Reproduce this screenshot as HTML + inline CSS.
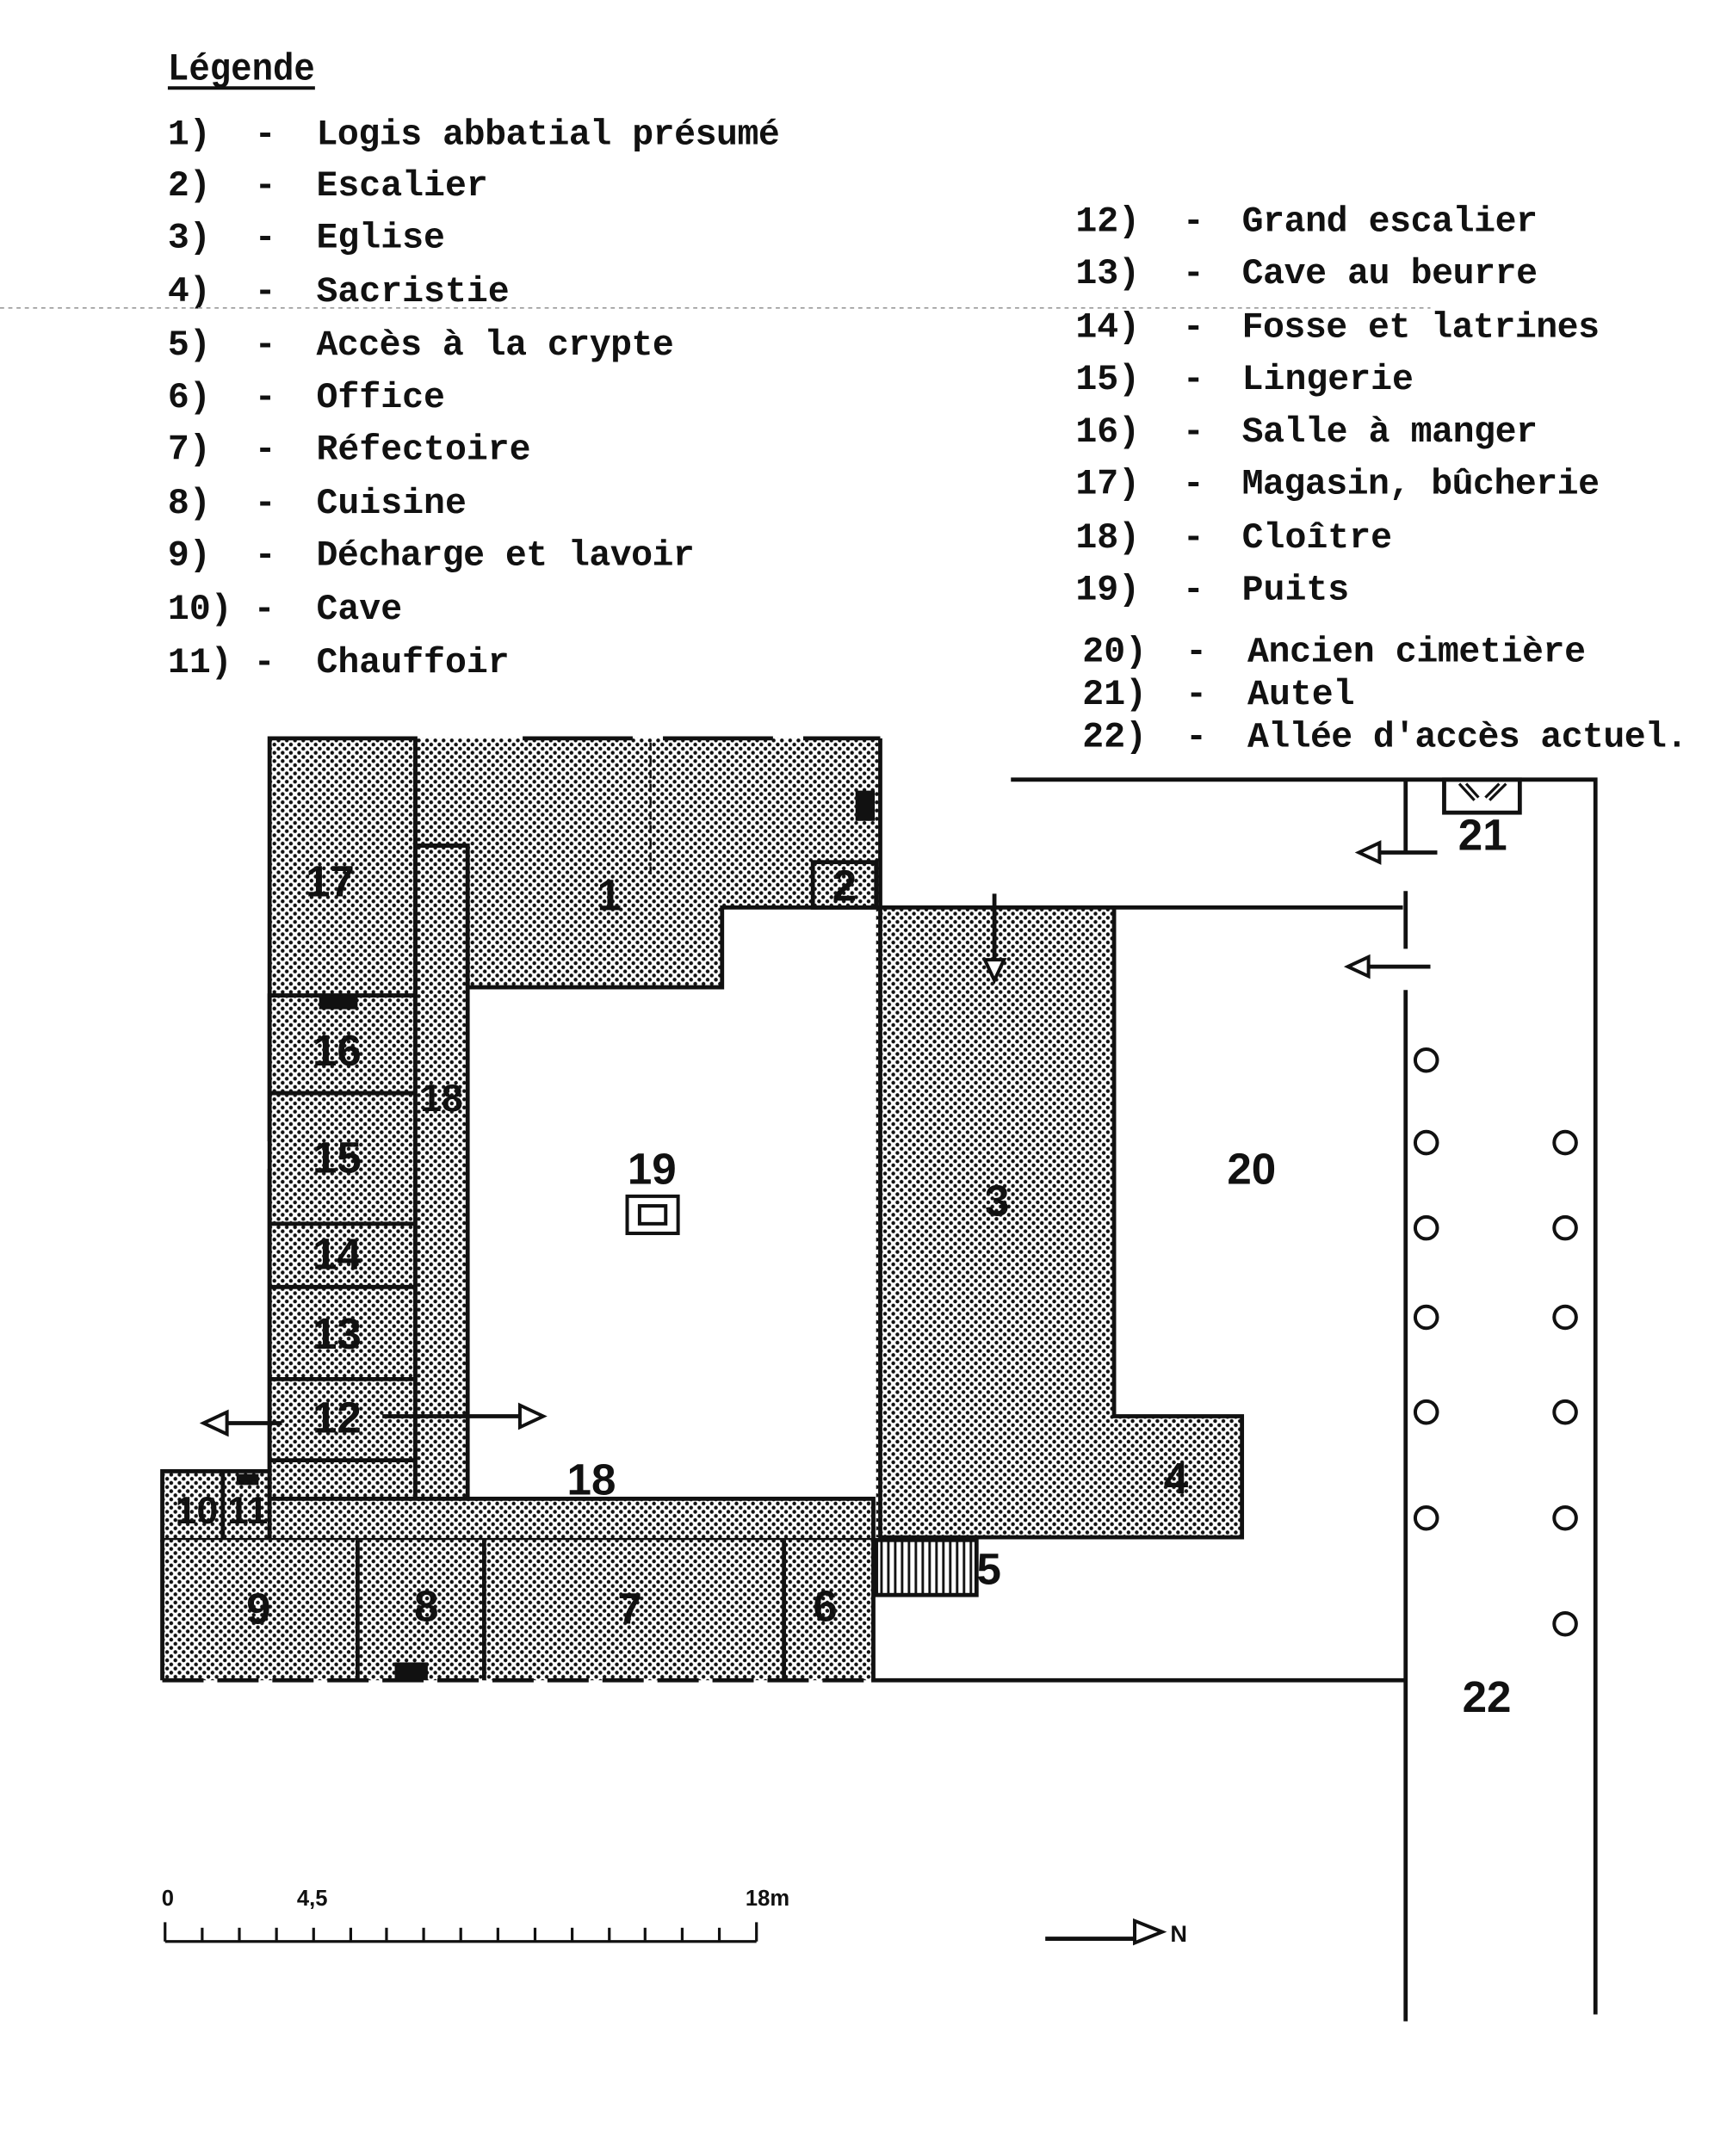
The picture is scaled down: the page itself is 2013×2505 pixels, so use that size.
<!DOCTYPE html>
<html><head><meta charset="utf-8"><style>
html,body{margin:0;padding:0;background:#fff;}
svg{display:block;}
.t{font-family:"Liberation Mono",monospace;font-weight:bold;font-size:26px;fill:#111;}
.n{font-family:"Liberation Sans",sans-serif;font-weight:bold;font-size:32px;fill:#111;text-anchor:middle;}
</style></head><body>
<svg width="2013" height="2505" viewBox="0 0 1260 1568" xmlns="http://www.w3.org/2000/svg">
<defs>
<pattern id="d" width="6" height="6" patternUnits="userSpaceOnUse">
<rect width="6" height="6" fill="#fff"/>
<circle cx="1.5" cy="1.5" r="1.4" fill="#111"/><circle cx="4.5" cy="4.5" r="1.4" fill="#111"/>
</pattern>
<pattern id="h" width="5" height="10" patternUnits="userSpaceOnUse"><rect width="5" height="10" fill="#fff"/><rect x="0" width="1.8" height="10" fill="#111"/></pattern>
</defs>
<rect width="1260" height="1568" fill="#fff"/>
<g class="t">
<text x="122" y="58" font-size="28" textLength="107" lengthAdjust="spacingAndGlyphs">Légende</text>
<line x1="122" y1="64" x2="229" y2="64" stroke="#111" stroke-width="2.5"/>
<text x="122" y="105">1)</text><text x="185" y="105">-</text><text x="230" y="105" textLength="337">Logis abbatial présumé</text>
<text x="122" y="142">2)</text><text x="185" y="142">-</text><text x="230" y="142">Escalier</text>
<text x="122" y="180">3)</text><text x="185" y="180">-</text><text x="230" y="180">Eglise</text>
<text x="122" y="219">4)</text><text x="185" y="219">-</text><text x="230" y="219">Sacristie</text>
<text x="122" y="258">5)</text><text x="185" y="258">-</text><text x="230" y="258" textLength="260">Accès à la crypte</text>
<text x="122" y="296">6)</text><text x="185" y="296">-</text><text x="230" y="296">Office</text>
<text x="122" y="334">7)</text><text x="185" y="334">-</text><text x="230" y="334">Réfectoire</text>
<text x="122" y="373">8)</text><text x="185" y="373">-</text><text x="230" y="373">Cuisine</text>
<text x="122" y="411">9)</text><text x="185" y="411">-</text><text x="230" y="411" textLength="275">Décharge et lavoir</text>
<text x="122" y="450">10) -</text><text x="230" y="450">Cave</text>
<text x="122" y="489">11) -</text><text x="230" y="489">Chauffoir</text>
<text x="782" y="168">12)</text><text x="860" y="168">-</text><text x="903" y="168" textLength="215">Grand escalier</text>
<text x="782" y="206">13)</text><text x="860" y="206">-</text><text x="903" y="206" textLength="215">Cave au beurre</text>
<text x="782" y="245">14)</text><text x="860" y="245">-</text><text x="903" y="245" textLength="260">Fosse et latrines</text>
<text x="782" y="283">15)</text><text x="860" y="283">-</text><text x="903" y="283">Lingerie</text>
<text x="782" y="321">16)</text><text x="860" y="321">-</text><text x="903" y="321" textLength="215">Salle à manger</text>
<text x="782" y="359">17)</text><text x="860" y="359">-</text><text x="903" y="359" textLength="260">Magasin, bûcherie</text>
<text x="782" y="398">18)</text><text x="860" y="398">-</text><text x="903" y="398">Cloître</text>
<text x="782" y="436">19)</text><text x="860" y="436">-</text><text x="903" y="436">Puits</text>
<text x="787" y="481">20)</text><text x="862" y="481">-</text><text x="907" y="481" textLength="246">Ancien cimetière</text>
<text x="787" y="512">21)</text><text x="862" y="512">-</text><text x="907" y="512">Autel</text>
<text x="787" y="543">22)</text><text x="862" y="543">-</text><text x="907" y="543" textLength="320">Allée d'accès actuel.</text>
</g>
<line x1="0" y1="224" x2="1040" y2="224" stroke="#999" stroke-width="1" stroke-dasharray="3,3"/>
<g fill="url(#d)" stroke="#111" stroke-width="3">
<rect x="196" y="537" width="106" height="187" stroke="none"/>
<polygon points="302,537 640,537 640,660 525,660 525,718 340,718 340,615 302,615" stroke="none"/>
<rect x="196" y="724" width="106" height="366"/>
<rect x="302" y="615" width="38" height="475"/>
<rect x="118" y="1070" width="78" height="50"/>
<rect x="196" y="1090" width="439" height="30"/>
<rect x="118" y="1120" width="517" height="102" stroke="none"/>
<rect x="637" y="660" width="173" height="458" stroke="none"/>
<rect x="810" y="1030" width="93" height="88" stroke="none"/>
</g>
<rect x="637" y="1120" width="73" height="40" fill="url(#h)" stroke="#111" stroke-width="3"/>
<g fill="none" stroke="#111" stroke-width="3">
<path d="M196,1090 V850 M196,830 V537 H302 V724 M196,724 H302"/>
<path d="M302,537 V615 H340 V718 H525 V660 H637"/>
<path d="M640,537 V1118 H903 V1030 H810 V660"/>
<path d="M637,660 H1020"/>
<rect x="591" y="627" width="46" height="33"/>
<path d="M196,795 H302 M196,890 H302 M196,936 H302 M196,1003 H302 M196,1062 H302"/>
<path d="M162,1070 V1120 M260,1120 V1222 M352,1120 V1222 M570,1120 V1222 M118,1120 V1222"/>
<path d="M635,1120 V1222 H1022"/>
<path d="M118,1222 H635" stroke-dasharray="30,10"/>
<path d="M380,537 H640" stroke-dasharray="80,22"/>
<path d="M473,540 V640" stroke-width="1.5" stroke-dasharray="6,4"/>
<path d="M735,567 H1022 V620 M1022,648 V690 M1022,720 V1470 M1022,567 H1160 V1465"/>
<rect x="1050" y="567" width="55" height="24"/>
<path d="M1061,570 L1072,582 M1066,570 L1075,580 M1095,570 L1083,582 M1090,570 L1080,580" stroke-width="2"/>
<path d="M1045,620 H1000 M1040,703 H993 M723,650 V698 M205,1035 H165 M278,1030 H378 M760,1410 H825"/>
<path d="M120,1412 H550 M120,1398 V1412 M550,1398 V1412" stroke-width="2"/>
</g>
<rect x="622" y="575" width="14" height="22" fill="#111"/>
<rect x="232" y="724" width="28" height="10" fill="#111"/>
<rect x="287" y="1209" width="24" height="13" fill="#111"/>
<rect x="172" y="1072" width="16" height="8" fill="#111"/>
<g fill="#fff" stroke="#111" stroke-width="2.5">
<polygon points="988,620 1003,613 1003,627"/>
<polygon points="980,703 995,696 995,710"/>
<polygon points="723,713 716,698 730,698"/>
<polygon points="148,1035 165,1027 165,1043"/>
<polygon points="395,1030 378,1022 378,1038"/>
<polygon points="845,1405 825,1397 825,1413"/>
<rect x="456" y="870" width="37" height="27"/><rect x="465" y="877" width="19" height="13"/>
</g>
<g fill="none" stroke="#111" stroke-width="2.5">
<circle cx="1037" cy="771" r="8"/><circle cx="1037" cy="831" r="8"/><circle cx="1037" cy="893" r="8"/><circle cx="1037" cy="958" r="8"/><circle cx="1037" cy="1027" r="8"/><circle cx="1037" cy="1104" r="8"/>
<circle cx="1138" cy="831" r="8"/><circle cx="1138" cy="893" r="8"/><circle cx="1138" cy="958" r="8"/><circle cx="1138" cy="1027" r="8"/><circle cx="1138" cy="1104" r="8"/><circle cx="1138" cy="1181" r="8"/>
</g>
<g stroke="#111" stroke-width="2">
<line x1="147" y1="1402" x2="147" y2="1412"/><line x1="174" y1="1402" x2="174" y2="1412"/><line x1="201" y1="1402" x2="201" y2="1412"/><line x1="228" y1="1402" x2="228" y2="1412"/><line x1="255" y1="1402" x2="255" y2="1412"/><line x1="281" y1="1402" x2="281" y2="1412"/><line x1="308" y1="1402" x2="308" y2="1412"/><line x1="335" y1="1402" x2="335" y2="1412"/><line x1="362" y1="1402" x2="362" y2="1412"/><line x1="389" y1="1402" x2="389" y2="1412"/><line x1="416" y1="1402" x2="416" y2="1412"/><line x1="443" y1="1402" x2="443" y2="1412"/><line x1="469" y1="1402" x2="469" y2="1412"/><line x1="496" y1="1402" x2="496" y2="1412"/><line x1="523" y1="1402" x2="523" y2="1412"/>
</g>
<g class="n">
<text x="240" y="652">17</text><text x="443" y="662">1</text><text x="614" y="655">2</text>
<text x="245" y="775">16</text><text x="321" y="808" font-size="28">18</text><text x="245" y="853">15</text>
<text x="245" y="923">14</text><text x="245" y="981">13</text><text x="245" y="1042">12</text>
<text x="143" y="1108" font-size="28">10</text><text x="180" y="1108" font-size="28">11</text>
<text x="430" y="1087">18</text>
<text x="188" y="1181">9</text><text x="310" y="1179">8</text><text x="458" y="1181">7</text><text x="600" y="1179">6</text>
<text x="474" y="861">19</text><text x="725" y="884">3</text><text x="910" y="861">20</text>
<text x="855" y="1086">4</text><text x="719" y="1152">5</text>
<text x="1078" y="618">21</text><text x="1081" y="1245">22</text>
<text x="122" y="1386" font-size="16">0</text><text x="227" y="1386" font-size="16">4,5</text><text x="558" y="1386" font-size="16">18m</text>
<text x="857" y="1412" font-size="17">N</text>
</g>
</svg>
</body></html>
